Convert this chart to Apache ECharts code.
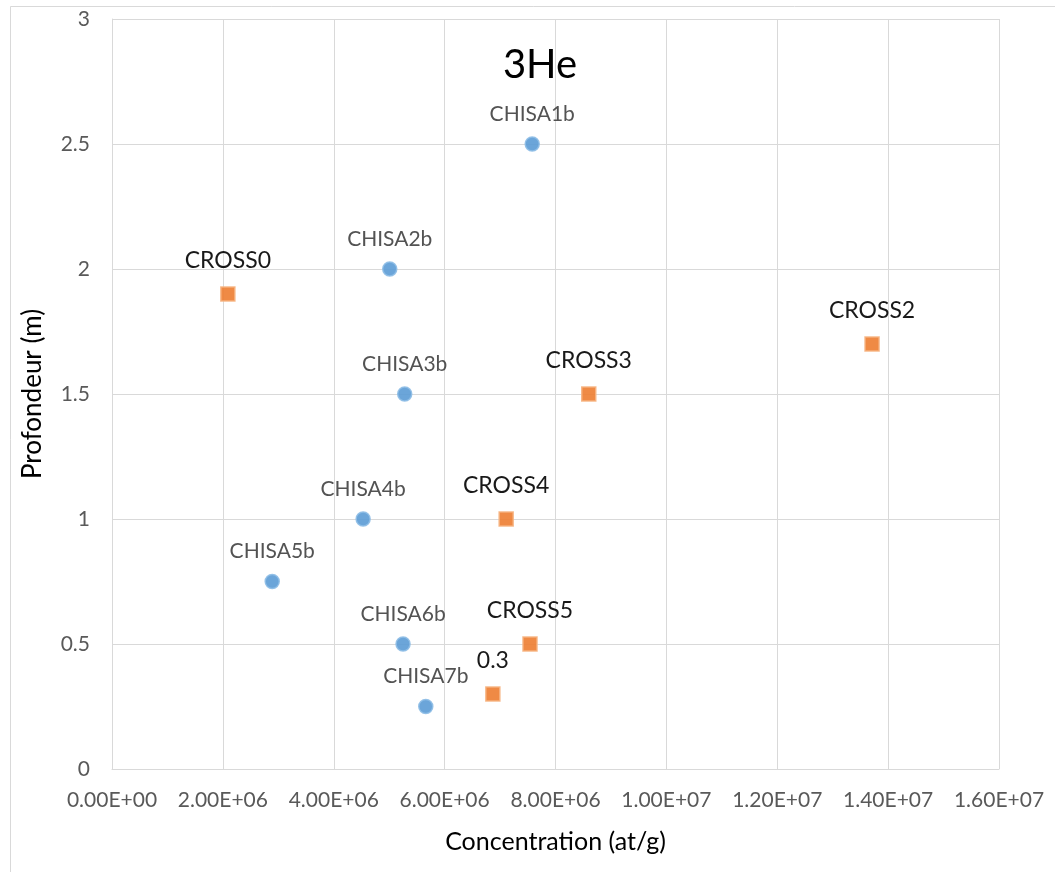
<!DOCTYPE html>
<html>
<head>
<meta charset="utf-8">
<script src="https://cdn.jsdelivr.net/npm/echarts@6/dist/echarts.min.js"></script>
<style>
html,body{margin:0;padding:0;background:#fff;}
#chart{width:1055px;height:872px;}
</style>
</head>
<body>
<div id="chart"></div>
<script>
// Helium-3 concentration against depth, two sampling profiles
const chisaNames = ['CHISA1b','CHISA2b','CHISA3b','CHISA4b','CHISA5b','CHISA6b','CHISA7b'];
const chisaConc  = [7.58e6, 5.01e6, 5.28e6, 4.53e6, 2.89e6, 5.25e6, 5.66e6];
const chisaDepth = [2.5, 2.0, 1.5, 1.0, 0.75, 0.5, 0.25];

const crossNames = ['CROSS0','CROSS2','CROSS3','CROSS4','CROSS5','0.3'];
const crossConc  = [2.09e6, 13.71e6, 8.60e6, 7.11e6, 7.54e6, 6.87e6];
const crossDepth = [1.9, 1.7, 1.5, 1.0, 0.5, 0.3];

const xTicks = [0, 2e6, 4e6, 6e6, 8e6, 1e7, 1.2e7, 1.4e7, 1.6e7];
const yTicks = [0, 0.5, 1, 1.5, 2, 2.5, 3];

const FONT = 'Lato, "Open Sans", sans-serif';

function sci(v) {
  if (v === 0) return '0.00E+00';
  const e = Math.floor(Math.log10(v) + 1e-9);
  const m = v / Math.pow(10, e);
  return m.toFixed(2) + 'E+' + String(e).padStart(2, '0');
}

const chisaData = chisaConc.map((x, i) => [x, chisaDepth[i], chisaNames[i]]);
const crossData = crossConc.map((x, i) => [x, crossDepth[i], crossNames[i]]);

const chart = echarts.init(document.getElementById('chart'));
chart.setOption({
  backgroundColor: '#fff',
  animation: false,
  title: {
    text: '3He',
    left: 535, top: 40, textAlign: 'center',
    textStyle: { fontFamily: FONT, fontSize: 40, fontWeight: 'normal', color: '#000' }
  },
  graphic: [{
    type: 'rect', left: 8, top: 4,
    shape: { width: 1060, height: 880 },
    style: { fill: 'none', stroke: '#D9D9D9', lineWidth: 1 },
    silent: true, z: -1
  }],
  grid: { left: 112, right: 56, top: 19, bottom: 103 },
  xAxis: {
    type: 'value', min: xTicks[0], max: xTicks[xTicks.length - 1], interval: 2e6,
    name: 'Concentration (at/g)', nameLocation: 'middle', nameGap: 60,
    nameTextStyle: { fontFamily: FONT, fontSize: 25, color: '#000' },
    axisLine: { lineStyle: { color: '#D9D9D9' } },
    axisTick: { show: false },
    axisLabel: { formatter: sci, fontFamily: FONT, fontSize: 21, color: '#595959', margin: 21 },
    splitLine: { lineStyle: { color: '#D9D9D9' } }
  },
  yAxis: {
    type: 'value', min: yTicks[0], max: yTicks[yTicks.length - 1], interval: 0.5,
    name: 'Profondeur (m)', nameLocation: 'middle', nameGap: 66, nameRotate: 90,
    nameTextStyle: { fontFamily: FONT, fontSize: 26, color: '#000' },
    axisLine: { show: true, lineStyle: { color: '#D9D9D9' } },
    axisTick: { show: false },
    axisLabel: { fontFamily: FONT, fontSize: 21, color: '#595959', margin: 22 },
    splitLine: { lineStyle: { color: '#D9D9D9' } }
  },
  series: [
    {
      type: 'scatter', name: 'CHISA',
      data: chisaData,
      symbol: 'circle', symbolSize: 14,
      itemStyle: { color: '#5B9BD5', borderColor: '#8DBCE6', borderWidth: 1.5, opacity: 0.9 },
      label: {
        show: true, position: 'top', distance: 12,
        formatter: p => p.data[2],
        fontFamily: FONT, fontSize: 21, color: '#404040'
      }
    },
    {
      type: 'scatter', name: 'CROSS',
      data: crossData,
      symbol: 'rect', symbolSize: 14,
      itemStyle: { color: '#ED7D31', borderColor: '#F6B27F', borderWidth: 1.5, opacity: 0.9 },
      label: {
        show: true, position: 'top', distance: 14,
        formatter: p => p.data[2],
        fontFamily: FONT, fontSize: 23, color: '#000'
      }
    }
  ]
});
</script>
</body>
</html>
